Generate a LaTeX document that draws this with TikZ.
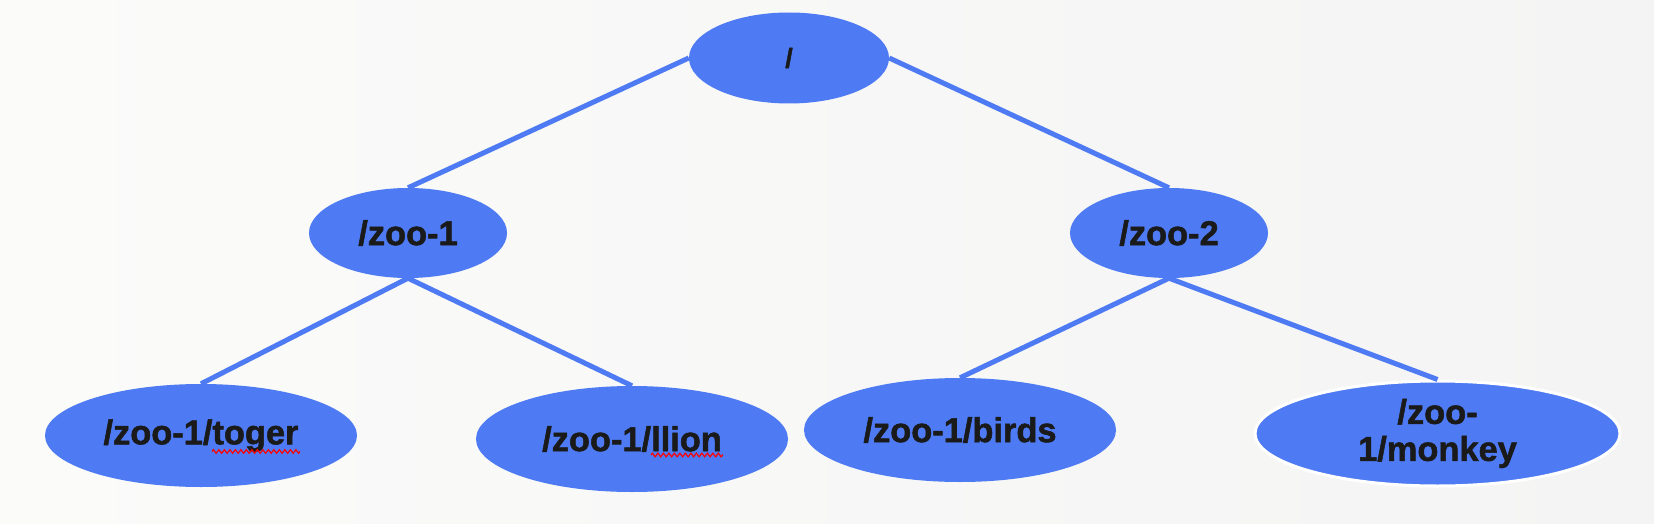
\documentclass[tikz,border=0pt]{standalone}
\usepackage{fontspec}
\setmainfont[BoldFeatures={FakeBold=1.5}]{Liberation Sans}
\usetikzlibrary{shapes.geometric,decorations.pathmorphing,calc}
\definecolor{nodeblue}{RGB}{78,123,243}
\definecolor{bgA}{RGB}{251,251,250}
\definecolor{bgB}{RGB}{244,244,244}
\definecolor{txt}{RGB}{26,26,26}
\begin{document}
\begin{tikzpicture}[x=1pt,y=-1pt,
  bubble/.style={ellipse,fill=nodeblue,inner sep=0pt,align=center,text=txt,
    font=\fontsize{34.4}{37}\selectfont\bfseries},
  link/.style={draw=nodeblue,line width=5pt},
  squiggle/.style={draw=red,line width=1.2pt,decorate,decoration={zigzag,amplitude=1.8pt,segment length=5.5pt}}]
\shade[left color=bgA,right color=bgB] (0,0) rectangle (1654,524);
\useasboundingbox (0,0) rectangle (1654,524);
\node[bubble,minimum width=200,minimum height=91,font=\fontsize{27}{30}\selectfont\bfseries] (root) at (789,58) {/};
\node[bubble,minimum width=198,minimum height=90] (z1) at (408,233) {/zoo-1};
\node[bubble,minimum width=198,minimum height=90] (z2) at (1169,233) {/zoo-2};
\node[bubble,minimum width=312,minimum height=103] (t) at (201,435.5) {/zoo-1/toger};
\node[bubble,minimum width=312,minimum height=106] (l) at (632,439) {/zoo-1/llion};
\node[bubble,minimum width=312,minimum height=104] (b) at (960,430) {/zoo-1/birds};
\node[bubble,draw=white,line width=3pt,minimum width=365,minimum height=105] (m) at (1437.5,433.5) {/zoo-\\1/monkey};
\draw[link] (root.west) -- (z1.north);
\draw[link] (root.east) -- (z2.north);
\draw[link] (z1.south) -- (t.north);
\draw[link] (z1.south) -- (l.north);
\draw[link] (z2.south) -- (b.north);
\draw[link] (z2.south) -- (m.north);
\draw[squiggle] ($(t.center)+(11,16)$) -- ($(t.center)+(99,16)$);
\draw[squiggle] ($(l.center)+(19,16)$) -- ($(l.center)+(91,16)$);
\end{tikzpicture}
\end{document}
